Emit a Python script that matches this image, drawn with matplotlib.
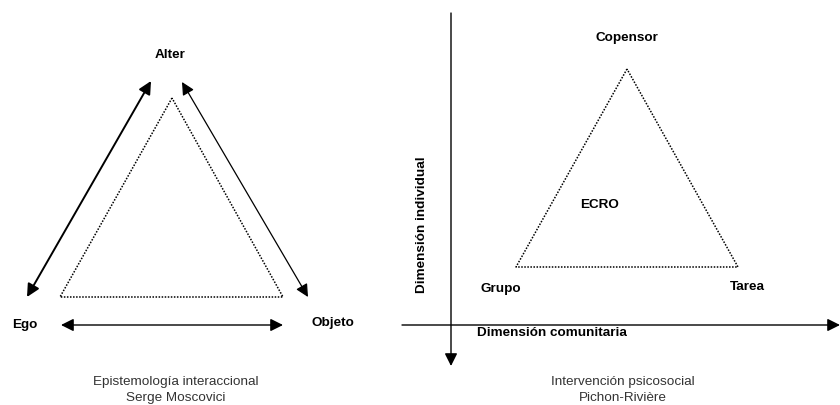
"""
Two triangle diagrams: Moscovici's interaction triangle and Pichon-Rivière's ECRO.
"""
import matplotlib
matplotlib.use("Agg")
import matplotlib.pyplot as plt

plt.rcParams["font.family"] = ["Liberation Sans", "DejaVu Sans"]

# ── Left diagram (pixel coordinates, y grows downward) ─────────
left_labels = ["Alter", "Ego", "Objeto"]
left_label_pos = [(170, 55), (25, 325), (333, 323)]
left_triangle = [(172, 98), (60, 297), (283, 297)]
left_arrows = [((27, 297), (151, 81)),
               ((182, 82), (308, 297)),
               ((61, 325), (283, 325))]
left_arrow_lw = [1.4, 0.9, 1.0]
left_caption = ["Epistemología interaccional", "Serge Moscovici"]

# ── Right diagram ─────────────────────────────────────────────
right_labels = ["Copensor", "ECRO", "Grupo", "Tarea"]
right_label_pos = [(627, 38), (600, 205), (501, 289), (747, 287)]
right_triangle = [(627, 69), (516, 267), (738, 267)]
v_axis = ((451, 13), (451, 366))
h_axis = ((402, 325), (840, 325))
axis_names = ["Dimensión individual", "Dimensión comunitaria"]
right_caption = ["Intervención psicosocial", "Pichon-Rivière"]

fig = plt.figure(figsize=(8.4, 4.05), dpi=100)
ax = fig.add_axes([0, 0, 1, 1])
ax.set_xlim(0, 840)
ax.set_ylim(405, 0)
ax.axis("off")

bold = dict(fontsize=9.7, fontweight="bold", ha="center", va="center")
plain = dict(fontsize=9.7, ha="center", va="center", color="#333333")
head = dict(color="black", mutation_scale=19, shrinkA=0, shrinkB=0)

# left
for (a, b), lw in zip(left_arrows, left_arrow_lw):
    ax.annotate("", xy=b, xytext=a,
                arrowprops=dict(arrowstyle="<|-|>", lw=lw, **head))
tx = [p[0] for p in left_triangle] + [left_triangle[0][0]]
ty = [p[1] for p in left_triangle] + [left_triangle[0][1]]
ax.plot(tx, ty, color="black", lw=1.1, ls=(0, (1, 1)))
for lab, (x, y) in zip(left_labels, left_label_pos):
    ax.text(x, y, lab, **bold)
ax.text(176, 382, left_caption[0], **plain)
ax.text(176, 398, left_caption[1], **plain)

# right
ax.annotate("", xy=v_axis[1], xytext=v_axis[0],
            arrowprops=dict(arrowstyle="-|>", lw=1.0, **head))
ax.annotate("", xy=h_axis[1], xytext=h_axis[0],
            arrowprops=dict(arrowstyle="-|>", lw=1.0, **head))
tx = [p[0] for p in right_triangle] + [right_triangle[0][0]]
ty = [p[1] for p in right_triangle] + [right_triangle[0][1]]
ax.plot(tx, ty, color="black", lw=1.1, ls=(0, (1, 1)))
for lab, (x, y) in zip(right_labels, right_label_pos):
    ax.text(x, y, lab, **bold)
ax.text(422, 225, axis_names[0], rotation=90, **bold)
ax.text(552, 333, axis_names[1], **bold)
ax.text(623, 382, right_caption[0], **plain)
ax.text(623, 398, right_caption[1], **plain)

fig.savefig("out.png", dpi=100)
plt.close(fig)
